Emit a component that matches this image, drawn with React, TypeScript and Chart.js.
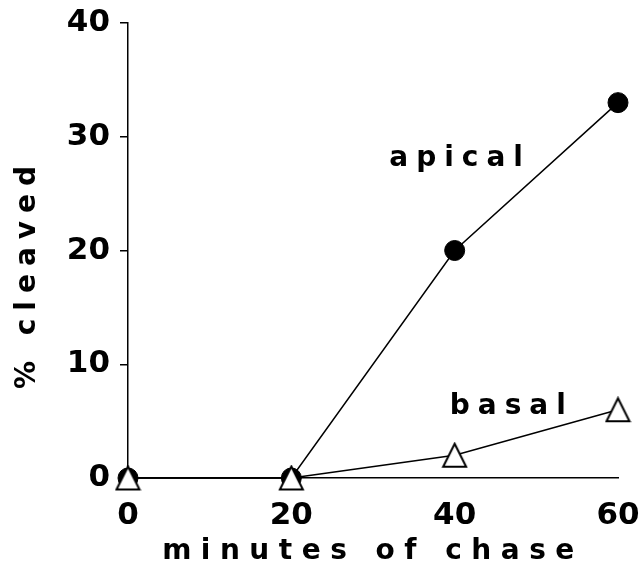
import React, { useEffect, useRef } from "react";
import { Chart, registerables } from "chart.js";

Chart.register(...registerables);

// ---- data ----
const minutes = [0, 20, 40, 60];
const apicalValues = [0, 0, 20, 33];
const basalValues = [0, 0, 2, 6];
const xTickValues = [0, 20, 40, 60];
const yTickValues = [0, 10, 20, 30, 40];
const seriesNames = ["apical", "basal"];
const xTitle = "minutes of chase";
const yTitle = "% cleaved";
// series name labels, anchored in data coordinates
const labelAnchors = [
  { text: "apical", x: 32, y: 28.1 },
  { text: "basal", x: 39.4, y: 6.3 },
];

const FONT = "'DejaVu Sans', 'Liberation Sans', Arial, sans-serif";

function makeTriangle(): HTMLCanvasElement {
  const c = document.createElement("canvas");
  c.width = 27;
  c.height = 27;
  const g = c.getContext("2d")!;
  g.beginPath();
  g.moveTo(13.5, 2);
  g.lineTo(25, 25);
  g.lineTo(2, 25);
  g.closePath();
  g.fillStyle = "#fff";
  g.fill();
  g.lineWidth = 2;
  g.strokeStyle = "#000";
  g.lineJoin = "miter";
  g.stroke();
  return c;
}

const seriesLabelPlugin = {
  id: "seriesLabels",
  afterDatasetsDraw(chart: any) {
    const { ctx, scales } = chart;
    const xs = scales.x;
    const ys = scales.y;
    ctx.save();
    ctx.font = `bold 28px ${FONT}`;
    (ctx as any).letterSpacing = "8px";
    ctx.fillStyle = "#000";
    ctx.textBaseline = "middle";
    ctx.textAlign = "left";
    for (const a of labelAnchors) {
      ctx.fillText(a.text, xs.getPixelForValue(a.x), ys.getPixelForValue(a.y));
    }
    ctx.restore();
  },
};

const spacedTitlesPlugin = {
  id: "spacedTitles",
  beforeDraw(chart: any) {
    for (const id of ["x", "y"]) {
      const s: any = chart.scales[id];
      if (s && !s._spacedPatched) {
        const orig = s.drawTitle;
        s.drawTitle = function (...args: any[]) {
          const ctx = this.ctx;
          ctx.save();
          ctx.letterSpacing = id === "x" ? "9.5px" : "8px";
          if (id === "y") ctx.translate(0, 23);
          orig.apply(this, args);
          ctx.restore();
        };
        s._spacedPatched = true;
      }
    }
  },
};

export default function App() {
  const ref = useRef<HTMLCanvasElement | null>(null);

  useEffect(() => {
    if (!ref.current) return;
    const triangle = makeTriangle();
    const chart = new Chart(ref.current, {
      type: "line",
      data: {
        datasets: [
          {
            label: seriesNames[0],
            data: minutes.map((m, i) => ({ x: m, y: apicalValues[i] })),
            borderColor: "#000",
            borderWidth: 1.5,
            backgroundColor: "#000",
            pointStyle: "circle",
            pointRadius: 10,
            pointBorderWidth: 1,
            pointBackgroundColor: "#000",
            pointBorderColor: "#000",
            tension: 0,
            clip: false as any,
            order: 1,
          },
          {
            label: seriesNames[1],
            data: minutes.map((m, i) => ({ x: m, y: basalValues[i] })),
            borderColor: "#000",
            borderWidth: 1.5,
            backgroundColor: "#fff",
            pointStyle: triangle as any,
            pointRadius: 13,
            pointBorderWidth: 1.5,
            pointBackgroundColor: "#fff",
            pointBorderColor: "#000",
            tension: 0,
            clip: false as any,
            order: 0,
          },
        ],
      },
      options: {
        responsive: false,
        animation: false,
        layout: { padding: { top: 23, right: 23, bottom: 0, left: 0 } },
        plugins: {
          legend: { display: false },
          tooltip: { enabled: false },
        },
        scales: {
          x: {
            type: "linear",
            min: 0,
            max: 60,
            afterBuildTicks: (scale: any) => {
              scale.ticks = xTickValues.map((v) => ({ value: v }));
            },
            afterFit: (scale: any) => {
              scale.height = 110;
              scale.paddingLeft = 0;
              scale.paddingRight = 0;
              scale.paddingTop = 0;
              scale.paddingBottom = 0;
            },
            grid: { display: true, drawOnChartArea: false, drawTicks: false },
            border: { display: true, color: "#000", width: 1.5 },
            ticks: {
              color: "#000",
              padding: 19,
              font: { family: FONT, size: 31, weight: "bold" },
            },
            title: {
              display: true,
              text: xTitle,
              color: "#000",
              font: { family: FONT, size: 28, weight: "bold" },
              padding: { top: 0, bottom: 19 },
            },
          },
          y: {
            type: "linear",
            min: 0,
            max: 40,
            afterBuildTicks: (scale: any) => {
              scale.ticks = yTickValues.map((v) => ({ value: v }));
            },
            afterFit: (scale: any) => {
              scale.width = 128;
              scale.paddingLeft = 0;
              scale.paddingRight = 0;
              scale.paddingTop = 0;
              scale.paddingBottom = 0;
            },
            grid: {
              display: true,
              drawOnChartArea: false,
              drawTicks: true,
              tickLength: 8,
              color: "#000",
              lineWidth: 1.5,
            },
            border: { display: true, color: "#000", width: 1.5 },
            ticks: {
              color: "#000",
              padding: 10,
              font: { family: FONT, size: 31, weight: "bold" },
            },
            title: {
              display: true,
              text: yTitle,
              color: "#000",
              font: { family: FONT, size: 28, weight: "bold" },
              padding: { top: 11, bottom: 0 },
            },
          },
        },
      } as any,
      plugins: [seriesLabelPlugin, spacedTitlesPlugin],
    });
    return () => chart.destroy();
  }, []);

  return (
    <div style={{ position: "absolute", left: 0, top: 0, width: 641, height: 588, background: "#fff" }}>
      <canvas ref={ref} width={641} height={588} style={{ display: "block" }} />
    </div>
  );
}
